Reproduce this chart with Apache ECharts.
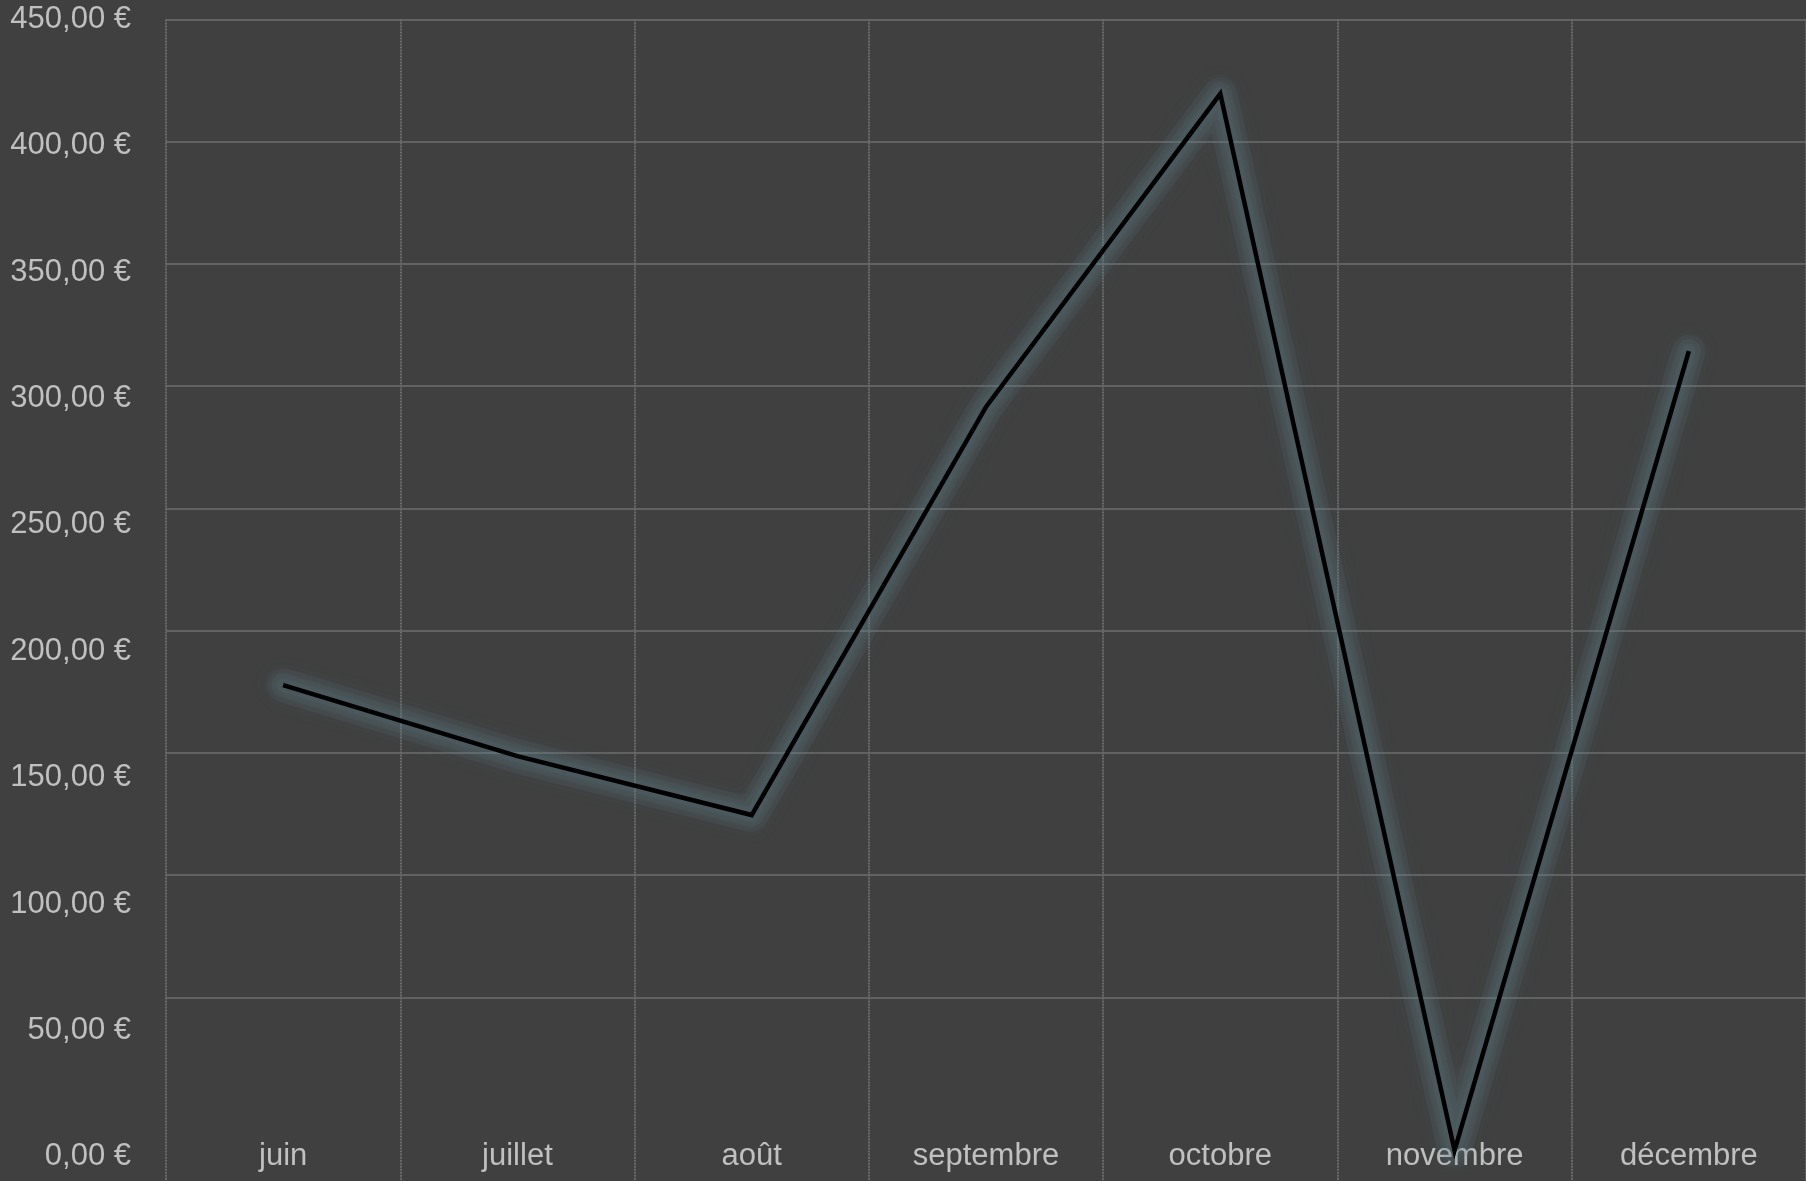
<!DOCTYPE html>
<html>
<head>
<meta charset="utf-8">
<style>
  html, body { margin: 0; padding: 0; background: #404040; }
  #chart { width: 1806px; height: 1181px; }
</style>
<script src="https://cdn.jsdelivr.net/npm/echarts@6/dist/echarts.min.js"></script>
</head>
<body>
<div id="chart"></div>
<script>
const months = ['juin', 'juillet', 'août', 'septembre', 'octobre', 'novembre', 'décembre'];
const amounts = [186.6, 158.5, 135.2, 296.7, 420.6, 2.5, 318.8];
const yMin = 0;
const yMax = 450;
const yStep = 50;

const fmt = v => v.toFixed(2).replace('.', ',') + '\u00a0€';
const labelColor = '#c0c0c0';
const fontFamily = '"Liberation Sans", Arial, sans-serif';
const vLine = { color: '#6a6a6a', width: 2, type: [2, 1] };

// soft glow layers (same data, drawn beneath the main line)
const glowWidths = [34, 24, 14];
const glowSeries = glowWidths.map(w => ({
  type: 'line',
  name: 'glow',
  xAxisIndex: 0,
  yAxisIndex: 0,
  data: amounts,
  symbol: 'none',
  silent: true,
  lineStyle: {
    color: 'rgba(100,135,145,0.09)', width: w, join: 'round', cap: 'round',
    shadowColor: 'rgba(100,135,145,1)', shadowBlur: 16
  }
}));

const chart = echarts.init(document.getElementById('chart'), null, { renderer: 'canvas' });
chart.setOption({
  backgroundColor: '#404040',
  animation: false,
  grid: [
    { left: 166, right: 0, top: 19.5, bottom: 24.3, containLabel: false },
    { left: 166, right: 0, top: 19.5, height: 977.8, containLabel: false }
  ],
  xAxis: [
    {
      type: 'category',
      gridIndex: 0,
      data: months,
      boundaryGap: true,
      axisLine: { show: false },
      axisTick: { show: true, interval: 0, length: 26, inside: false, lineStyle: vLine },
      splitLine: { show: true, interval: 0, lineStyle: vLine },
      axisLabel: {
        interval: 0, margin: 0, verticalAlign: 'middle',
        color: labelColor, fontSize: 31, fontFamily: fontFamily
      }
    },
    {
      type: 'category',
      gridIndex: 1,
      data: months,
      show: false
    }
  ],
  yAxis: [
    {
      type: 'value',
      gridIndex: 0,
      min: yMin, max: yMax, interval: yStep,
      axisLine: { show: false },
      axisTick: { show: false },
      splitLine: { show: false },
      axisLabel: {
        margin: 35, color: labelColor, fontSize: 31, fontFamily: fontFamily,
        formatter: fmt
      }
    },
    {
      type: 'value',
      gridIndex: 1,
      min: 50, max: 450, interval: 50,
      axisLine: { show: false },
      axisTick: { show: false },
      axisLabel: { show: false },
      splitLine: { show: true, lineStyle: { color: '#6e6e6e', width: 1.5 } }
    }
  ],
  series: glowSeries.concat([
    {
      type: 'line',
      name: 'montant',
      xAxisIndex: 0,
      yAxisIndex: 0,
      data: amounts,
      symbol: 'none',
      lineStyle: { color: '#000000', width: 4.5, join: 'miter' }
    }
  ])
});
</script>
</body>
</html>
